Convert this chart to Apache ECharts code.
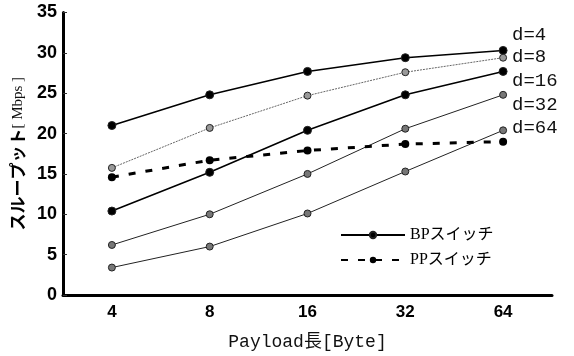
<!DOCTYPE html>
<html><head><meta charset="utf-8">
<script src="https://cdn.jsdelivr.net/npm/echarts@6/dist/echarts.min.js"></script>
<style>html,body{margin:0;padding:0;background:#fff}#c{width:574px;height:356px}</style>
</head><body><div id="c"></div>
<script>
var categories = ['4','8','16','32','64'];
var bpD4  = [21.0, 24.8, 27.7, 29.4, 30.3];
var bpD8  = [15.75, 20.7, 24.7, 27.6, 29.4];
var bpD16 = [10.4, 15.2, 20.4, 24.8, 27.7];
var bpD32 = [6.2, 10.0, 15.0, 20.6, 24.8];
var bpD64 = [3.4, 6.0, 10.1, 15.3, 20.4];
var pp    = [14.6, 16.7, 17.9, 18.7, 19.0];
var dLabels = ['d=4','d=8','d=16','d=32','d=64'];
var yTicks = {min:0, max:35, interval:5};

var chart = echarts.init(document.getElementById('c'));
function bpSeries(data, w, color, type, symColor, symSize){
  return {name:'BPスイッチ', type:'line', data:data, symbol:'circle', symbolSize:symSize,
    lineStyle:{color:color, width:w, type:type},
    itemStyle:{color:symColor, borderColor:'#222', borderWidth:1}, z:3};
}
var series = [
  bpSeries(bpD4, 1.6, '#000', 'solid', '#000', 8),
  {name:'PPスイッチ', type:'line', data:pp, symbol:'circle', symbolSize:8,
    lineStyle:{color:'#000', width:3, type:[7,10]}, itemStyle:{color:'#000'}, z:4},
  bpSeries(bpD8, 1, '#666', [2,1], '#999', 7),
  bpSeries(bpD16, 1.6, '#000', 'solid', '#000', 8),
  bpSeries(bpD32, 1, '#222', 'solid', '#777', 7),
  bpSeries(bpD64, 1, '#222', 'solid', '#777', 7)
];
var ys = [35, 57.5, 81, 105, 128];
var graphics = dLabels.map(function(t,i){
  return {type:'text', left:512, top:ys[i]-10, style:{text:t, font:'19px "Liberation Mono", monospace', fill:'#111'}};
});
chart.setOption({
  animation:false,
  grid:{left:63, right:22, top:12.5, bottom:56},
  legend:{orient:'vertical', left:335, top:222, itemWidth:64, itemHeight:8, itemGap:9,
    data:['BPスイッチ','PPスイッチ'],
    textStyle:{fontFamily:'"Liberation Serif","Noto Sans CJK JP",serif', fontSize:16, color:'#000'}},
  xAxis:{type:'category', data:categories, boundaryGap:true,
    axisLine:{lineStyle:{color:'#000', width:3}},
    axisTick:{inside:true, length:6, lineStyle:{color:'#333', width:1}},
    axisLabel:{fontFamily:'"Liberation Sans",Arial,sans-serif', fontWeight:'bold', fontSize:17, color:'#000', margin:9},
    name:'Payload長[Byte]', nameLocation:'middle', nameGap:38,
    nameTextStyle:{fontFamily:'"Liberation Mono","Noto Sans CJK JP",monospace', fontSize:18, color:'#111'}},
  yAxis:{type:'value', min:yTicks.min, max:yTicks.max, interval:yTicks.interval,
    splitLine:{show:false},
    axisLine:{show:true, lineStyle:{color:'#000', width:3}},
    axisTick:{show:true, inside:true, length:4, lineStyle:{color:'#333', width:1}},
    axisLabel:{fontFamily:'"Liberation Sans",Arial,sans-serif', fontWeight:'bold', fontSize:18, color:'#000', margin:6},
    name:'{a|スループット}{b|[ Mbps ]}', nameLocation:'middle', nameGap:36, nameRotate:90,
    nameTextStyle:{rich:{a:{fontFamily:'"Noto Sans CJK JP",sans-serif', fontWeight:'bold', fontSize:17, color:'#000'},
      b:{fontFamily:'"Liberation Serif",serif', fontSize:15, color:'#111'}}}},
  graphic:graphics,
  series:series
});
</script></body></html>
